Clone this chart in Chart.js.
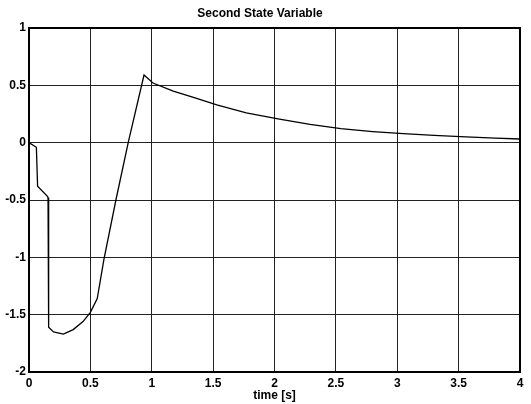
<!DOCTYPE html>
<html>
<head>
<meta charset="utf-8">
<script src="https://cdn.jsdelivr.net/npm/chart.js@4.4.0/dist/chart.umd.min.js"></script>
<style>
  body { margin: 0; background: #fff; }
  canvas { display: block; }
</style>
</head>
<body>
<canvas id="stateChart" width="531" height="404"></canvas>
<script>
/* DATA */
var timeVals  = [0, 0.06, 0.07, 0.152, 0.155, 0.16, 0.2, 0.28, 0.36, 0.44, 0.5, 0.556,
                 0.61, 0.708, 0.81, 0.937, 1.01, 1.175, 1.34, 1.53, 1.77, 2.04, 2.29, 2.54,
                 2.8, 3.05, 3.3, 3.56, 3.8, 4.0];
var stateVals = [0, -0.04, -0.38, -0.47, -0.48, -1.61, -1.65, -1.67, -1.63, -1.56, -1.48, -1.36,
                 -1.02, -0.5, 0.01, 0.59, 0.52, 0.45, 0.395, 0.33, 0.26, 0.205, 0.16, 0.122,
                 0.097, 0.078, 0.063, 0.05, 0.04, 0.032];
var xTicks = [0, 0.5, 1, 1.5, 2, 2.5, 3, 3.5, 4];
var yTicks = [-2, -1.5, -1, -0.5, 0, 0.5, 1];

var points = [];
timeVals.forEach(function (t, i) {
  points.push({ x: t, y: stateVals[i] });
});

var fontFam = '"Liberation Sans", Arial, Helvetica, sans-serif';
var tickFont = { family: fontFam, size: 12, weight: 'bold' };

/* box around plot area, like matlab */
var frameBox = {
  id: 'frameBox',
  afterDraw: function (chart) {
    var a = chart.chartArea, ctx = chart.ctx;
    ctx.save();
    ctx.strokeStyle = '#000';
    ctx.lineWidth = 2;
    ctx.strokeRect(a.left, a.top, a.right - a.left, a.bottom - a.top);
    ctx.restore();
  }
};

function plainLabel(v) { return String(v); }

new Chart(document.getElementById('stateChart').getContext('2d'), {
  type: 'line',
  data: {
    datasets: [{
      data: points,
      borderColor: '#000',
      borderWidth: 1.3,
      pointRadius: 0,
      tension: 0,
      fill: false
    }]
  },
  options: {
    responsive: false,
    animation: false,
    layout: { padding: { left: 0, right: 11, top: 0, bottom: 0 } },
    plugins: {
      legend: { display: false },
      tooltip: { enabled: false },
      title: {
        display: true,
        text: 'Second State Variable',
        color: '#000',
        font: { family: fontFam, size: 12, weight: 'bold', lineHeight: 1.2 },
        padding: { top: 6, bottom: 7.6 }
      }
    },
    scales: {
      x: {
        type: 'linear',
        min: 0, max: 4,
        afterBuildTicks: function (s) { s.ticks = xTicks.map(function (v) { return { value: v }; }); },
        afterFit: function (s) { s.height = 32; },
        grid: { color: '#222', lineWidth: 1, drawTicks: false },
        border: { color: '#000', width: 2 },
        ticks: { color: '#000', padding: 4, maxRotation: 0, font: tickFont, callback: plainLabel },
        title: {
          display: true, text: 'time [s]', color: '#000',
          font: { family: fontFam, size: 12, weight: 'bold', lineHeight: 1.2 },
          padding: { top: 0, bottom: 1.5 }
        }
      },
      y: {
        min: -2, max: 1,
        afterBuildTicks: function (s) { s.ticks = yTicks.map(function (v) { return { value: v }; }); },
        afterFit: function (s) { s.width = 29; },
        grid: { color: '#222', lineWidth: 1, drawTicks: false },
        border: { color: '#000', width: 2 },
        ticks: { color: '#000', padding: 3, font: tickFont, callback: plainLabel }
      }
    }
  },
  plugins: [frameBox]
});
</script>
</body>
</html>
